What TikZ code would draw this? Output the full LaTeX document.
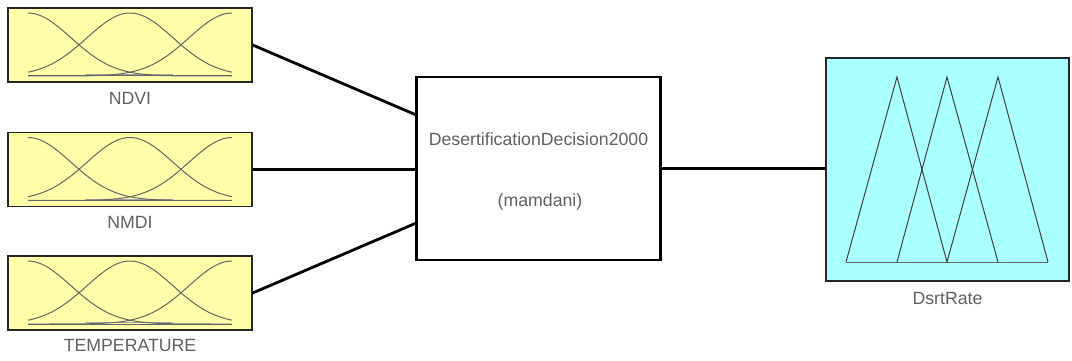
\documentclass[tikz,border=0pt]{standalone}
\usepackage{fontspec}
\setmainfont{Liberation Sans}
\definecolor{mfyellow}{RGB}{255,255,170}
\definecolor{mfcyan}{RGB}{170,255,255}
\begin{document}
\begin{tikzpicture}[x=1pt,y=-1pt,
  inbox/.style={draw=black!85,fill=mfyellow,line width=1.3pt,minimum width=244pt,minimum height=74pt,inner sep=0pt},
  fisbox/.style={draw=black,line width=2.8pt,fill=white,minimum width=244pt,minimum height=183pt,inner sep=0pt},
  outbox/.style={draw=black!85,fill=mfcyan,line width=1.3pt,minimum width=243pt,minimum height=223pt,inner sep=0pt},
  lbl/.style={text=black!62,font=\fontsize{17.7}{20}\selectfont,inner sep=0pt},
  mf/.style={draw=black!60,line width=1pt},
  wire/.style={line width=2.8pt,black}]
\useasboundingbox (0,0) rectangle (1072,361);
% input variables
\foreach \n/\yc/\t/\ly in {ndvi/45/NDVI/98,nmdi/169.5/NMDI/222.5,temp/293/TEMPERATURE/345}{
  \node[inbox] (\n) at (130,\yc) {};
  \node[lbl] (\n-name) at (130,\ly) {\t};
  \draw[mf,black!35] (85,{\yc+29.5}) -- (173,{\yc+29.5});
  \draw[mf] (28,{\yc+31}) -- (232,{\yc+31});
  \foreach \m in {28,130,232}
    \draw[mf,domain=28:232,samples=60] plot (\x,{\yc+31-63*exp(-(((\x-\m)/10)^2)/36.98)});
}
% rule block
\node[fisbox] (fis) at (538.5,168.5) {};
\node[lbl] (fis-title) at (538.5,139) {DesertificationDecision2000};
\node[lbl] (fis-type) at (540,202) {(mamdani)};
% output variable
\node[outbox] (out) at (947.5,169.5) {};
\node[lbl] (out-name) at (947.5,298) {DsrtRate};
\draw[mf] (846,262) -- (1048,262);
\draw[mf,black!75] (846,262) -- (897,77) -- (947,262);
\draw[mf,black!75] (897,262) -- (947,77) -- (998,262);
\draw[mf,black!75] (947,262) -- (998,77) -- (1048,262);
% connections
\draw[wire] (ndvi.east) -- ([yshift=54pt]fis.west);
\draw[wire] (nmdi.east) -- (nmdi.east -| fis.west);
\draw[wire] (temp.east) -- ([yshift=-55pt]fis.west);
\draw[wire] (fis.east) -- (fis.east -| out.west);
\end{tikzpicture}
\end{document}
